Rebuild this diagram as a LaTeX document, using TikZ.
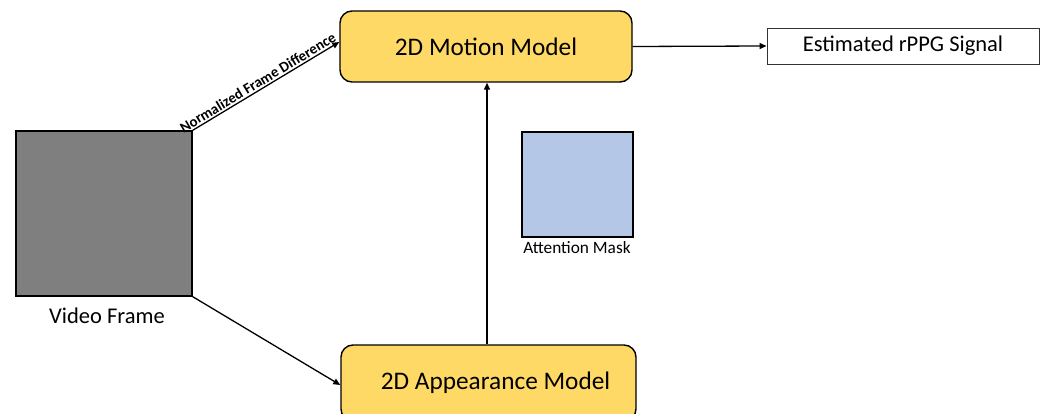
\documentclass[tikz,border=0pt]{standalone}
\usepackage{fontspec}
\setmainfont{Carlito}
\usetikzlibrary{arrows.meta,calc}
\definecolor{modelfill}{HTML}{FFD966}
\definecolor{maskfill}{HTML}{B4C7E7}
\definecolor{framefill}{HTML}{7F7F7F}
\tikzset{
  model/.style={draw=black, line width=1.4pt, fill=modelfill, rounded corners=12pt,
    inner sep=0pt, font=\fontsize{25.3}{30}\selectfont},
  picbox/.style={draw=black, line width=1.3pt, inner sep=0pt},
  outbox/.style={draw=black!80, line width=0.9pt, inner sep=0pt,
    font=\fontsize{22.5}{27}\selectfont},
  caption/.style={inner sep=0pt, font=\fontsize{22.5}{27}\selectfont},
  flow/.style={line width=1.3pt, -{Triangle[length=7pt,width=6pt]}},
}
\begin{document}
\begin{tikzpicture}[x=1pt, y=-1pt]
\useasboundingbox (0,0) rectangle (1047,414);
\clip (0,0) rectangle (1047,414);

% input frame and its caption
\node[picbox, fill=framefill, minimum width=176pt, minimum height=165pt] (vf) at (104,213.5) {};
\node[caption] (vfcap) at (107,316) {Video Frame};

% two model branches
\node[model, minimum width=292pt, minimum height=71pt] (motion) at (486,46.5) {2D Motion Model};
\node[model, minimum width=295pt, minimum height=76pt] (appear) at (488.5,383) {\hspace*{14pt}2D Appearance Model};

% attention mask
\node[picbox, fill=maskfill, minimum width=111pt, minimum height=105pt] (mask) at (577.5,184.5) {};
\node[inner sep=0pt, font=\fontsize{17.3}{20}\selectfont] (maskcap) at (577,248) {Attention Mask};

% output
\node[outbox, minimum width=272pt, minimum height=36pt] (signal) at (903,46) {Estimated rPPG Signal};

% connectors
\draw[flow] (vf.north east) -- node[sloped, above, inner sep=1.5pt, pos=0.47,
  font=\bfseries\fontsize{14.8}{17}\selectfont] {Normalized Frame Difference}
  ([yshift=4.5pt]motion.west);
\draw[flow] (vf.south east) -- ([yshift=-2pt]appear.west);
\draw[flow] ([xshift=-1.5pt]appear.north) -- ([xshift=-1.5pt]appear.north |- motion.south);
\draw[flow] (motion.east) -- (signal.west);
\end{tikzpicture}
\end{document}
